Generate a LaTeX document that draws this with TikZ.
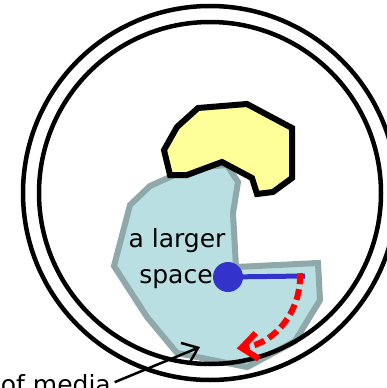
\documentclass[tikz,border=0pt]{standalone}
\usepackage{fontspec}
\setmainfont{DejaVu Sans}
\usetikzlibrary{arrows.meta,positioning,shadows}
\definecolor{roomfill}{HTML}{B9DFE3}
\definecolor{roomline}{HTML}{8FA9AA}
\definecolor{blobfill}{HTML}{FFFF99}
\definecolor{dotblue}{HTML}{3333CC}
\begin{document}
\begin{tikzpicture}[x=1pt, y=-1pt,
    ring/.style={draw=black, line width=4.5pt},
    room/.style={fill=roomfill, draw=roomline, line width=6pt, line join=miter,
        drop shadow={shadow xshift=2pt, shadow yshift=-3pt, opacity=0.25}},
    blob/.style={fill=blobfill, draw=black, line width=6pt, line join=miter},
    dot/.style={circle, fill=dotblue, minimum size=30pt, inner sep=0pt},
    spoke/.style={draw=dotblue, line width=5pt},
    turn/.style={draw=red, line width=6pt, dash pattern=on 11pt off 5pt,
        -{Straight Barb[length=16pt,width=26pt]}},
    pointer/.style={draw=black, line width=2.5pt, -{Straight Barb[length=14pt,width=22pt]}},
    label/.style={font=\fontsize{25}{30}\selectfont, inner sep=0pt}
]
\useasboundingbox (0,0) rectangle (387,388);

% Larger space (blue region)
\path[room] (150,186) -- (130,205) -- (114,266) -- (147,317) -- (177,353)
    -- (247,367) -- (295,341) -- (320,300) -- (318,263) -- (236,267)
    -- (233,213) -- (238,182) -- (227,165) -- (190,168) -- cycle;

% Blob on top
\path[blob] (198,108) -- (247,104) -- (292,128) -- (292,178) -- (273,192)
    -- (257,194) -- (252,178) -- (222,162) -- (187,175) -- (170,175)
    -- (164,150) -- (177,127) -- cycle;

% Double boundary
\draw[ring] (210,193) circle[radius=187];
\draw[ring] (210,193) circle[radius=171];

% Point and turning path
\coordinate (hub) at (228,277);
\coordinate (tail) at (305,276);
\draw[spoke] (hub) -- (tail);
\node[dot] (dot) at (hub) {};
\draw[turn] ([shift={(-3:72)}]hub) arc[start angle=-3, end angle=83, radius=72];

% Labels
\node[label, anchor=base] (larger) at (177,247) {a larger};
\node[label, anchor=base] (space) at (176,283) {space};
\node[label, anchor=base east] (media) at (111,393) {of media};
\coordinate (mediatip) at (200,347);
\draw[pointer, shorten <=4pt] (media.east) -- (mediatip);

\end{tikzpicture}
\end{document}
